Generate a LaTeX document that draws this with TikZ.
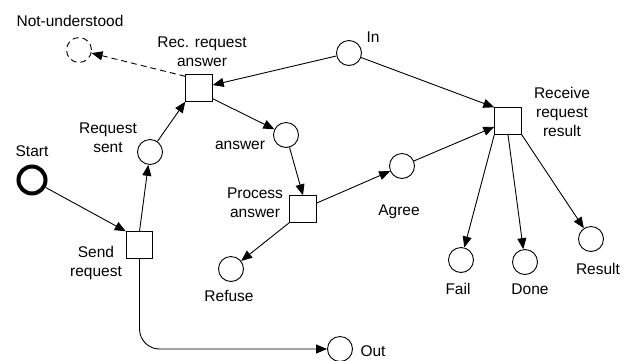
\documentclass[tikz,border=0pt]{standalone}
\usepackage{fontspec}
\setmainfont{Liberation Sans}
\usetikzlibrary{arrows.meta,calc}
\begin{document}
\begin{tikzpicture}[x=1pt,y=-1pt,
  place/.style={circle,draw,line width=0.9pt,minimum size=25pt,inner sep=0pt},
  trans/.style={rectangle,draw,line width=0.9pt,minimum size=26.5pt,inner sep=0pt},
  lbl/.style={align=center,inner sep=0pt,font=\fontsize{15.5}{19}\selectfont},
  arc/.style={line width=0.9pt,-{Triangle[length=11pt,width=9pt]}},
  longdash/.style={dash pattern=on 6pt off 4pt},
]
\useasboundingbox (0,0) rectangle (632,360);
% places
\node[place,longdash] (NotU) at (79,50) {};
\node[place,line width=4pt,minimum size=27pt] (Start) at (32,180) {};
\node[place] (ReqSent) at (150,152) {};
\node[place] (Answer) at (286,135) {};
\node[place] (In) at (349,53) {};
\node[place] (Agree) at (402,166) {};
\node[place] (Refuse) at (231,269) {};
\node[place] (Fail) at (461,260) {};
\node[place] (Done) at (525,262) {};
\node[place] (Result) at (591,239) {};
\node[place] (Out) at (340,349) {};
% transitions
\node[trans] (Rec) at (199,88) {};
\node[trans] (Send) at (139.5,245) {};
\node[trans] (Proc) at (303,209) {};
\node[trans] (Recv) at (508,121) {};
% labels
\node[lbl] (lNotU) at (70,21) {Not-understood};
\node[lbl] (lRec) at (202,52) {Rec. request\\answer};
\node[lbl] (lReqSent) at (108,138) {Request\\sent};
\node[lbl] (lStart) at (32,151) {Start};
\node[lbl] (lAnswer) at (240,145) {answer};
\node[lbl] (lSend) at (96,263) {Send\\request};
\node[lbl] (lProc) at (255,203) {Process\\answer};
\node[lbl] (lRefuse) at (229,296) {Refuse};
\node[lbl] (lAgree) at (399,212) {Agree};
\node[lbl] (lIn) at (373,37) {In};
\node[lbl] (lRecv) at (562,112) {Receive\\request\\result};
\node[lbl] (lFail) at (458,289) {Fail};
\node[lbl] (lDone) at (530,289) {Done};
\node[lbl] (lResult) at (598,269) {Result};
\node[lbl] (lOut) at (373,351) {Out};
% arcs
\draw[arc] (Start) -- (Send.north west);
\draw[arc] (Send.north) -- (ReqSent);
\draw[arc] (ReqSent) -- (Rec.south west);
\draw[arc,longdash] ($(Rec.north west)+(0,2)$) -- (NotU);
\draw[arc] (In) -- ($(Rec.east)+(0,-3)$);
\draw[arc] ($(Rec.south east)+(0,-3)$) -- (Answer);
\draw[arc] (Answer) -- (Proc.north);
\draw[arc] (Proc.south west) -- (Refuse);
\draw[arc] (Proc) -- (Agree);
\draw[arc] (Agree) -- (Recv);
\draw[arc] (In) -- (Recv.north west);
\draw[arc] (Recv.south west) -- (Fail);
\draw[arc] (Recv.south) -- (Done);
\draw[arc] (Recv.south east) -- (Result);
\draw[arc,rounded corners=20pt] (Send.south) |- (Out.west);
\end{tikzpicture}
\end{document}
